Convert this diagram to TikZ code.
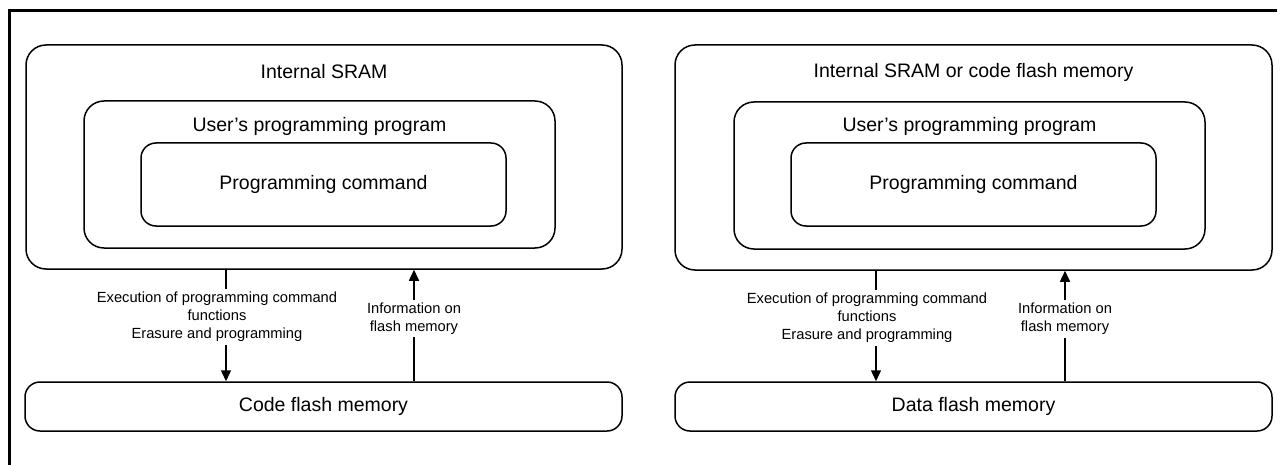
\documentclass[tikz,border=0pt]{standalone}
\usepackage{fontspec}
\setmainfont{Liberation Sans}
\usetikzlibrary{arrows.meta}
\begin{document}
\begin{tikzpicture}[x=1pt,y=-1pt,
  box/.style={draw,line width=1.5pt,rounded corners=20pt,inner sep=0pt},
  boxs/.style={draw,line width=1.5pt,rounded corners=15pt,inner sep=0pt},
  big/.style={font=\fontsize{19.5}{23.4}\selectfont,inner sep=0pt},
  small/.style={font=\fontsize{14.7}{17.9}\selectfont,align=center,fill=white,inner sep=3pt},
  arr/.style={line width=1.5pt,-{Triangle[width=10pt,length=11pt]}},
  frame/.style={line width=3pt}]
\useasboundingbox (0,0) rectangle (1281,465);
\draw[frame] (1277,11) -- (9,11) -- (9,466);
% left diagram
\node[box,minimum width=596pt,minimum height=224pt] (sramL) at (324,157) {};
\node[big] (sramLt) at (324,72) {Internal SRAM};
\node[box,minimum width=471pt,minimum height=147pt] (userL) at (319.5,174.5) {};
\node[big] (userLt) at (319.5,126) {User’s programming program};
\node[boxs,big,minimum width=365pt,minimum height=83pt] (cmdL) at (323.5,184.5) {Programming command};
\node[boxs,big,minimum width=597pt,minimum height=49pt] (codeL) at (323.5,406.5) {Code flash memory};
\coordinate (dnL) at (226,0);
\coordinate (upL) at (414,0);
\draw[arr] (sramL.south -| dnL) -- (codeL.north -| dnL);
\draw[arr] (codeL.north -| upL) -- (sramL.south -| upL);
\node[small] (execL) at (217,317) {Execution of programming command\\functions\\Erasure and programming};
\node[small] (infoL) at (414,318.5) {Information on\\flash memory};
% right diagram
\node[box,minimum width=597pt,minimum height=225pt] (sramR) at (973.5,157.5) {};
\node[big] (sramRt) at (973.5,72) {Internal SRAM or code flash memory};
\node[box,minimum width=471pt,minimum height=147pt] (userR) at (969.5,175.5) {};
\node[big] (userRt) at (969.5,126) {User’s programming program};
\node[boxs,big,minimum width=365pt,minimum height=83pt] (cmdR) at (973.5,184.5) {Programming command};
\node[boxs,big,minimum width=597pt,minimum height=49pt] (dataR) at (973.5,406.5) {Data flash memory};
\coordinate (dnR) at (876,0);
\coordinate (upR) at (1065,0);
\draw[arr] (sramR.south -| dnR) -- (dataR.north -| dnR);
\draw[arr] (dataR.north -| upR) -- (sramR.south -| upR);
\node[small] (execR) at (867,318) {Execution of programming command\\functions\\Erasure and programming};
\node[small] (infoR) at (1065,319) {Information on\\flash memory};
\end{tikzpicture}
\end{document}
